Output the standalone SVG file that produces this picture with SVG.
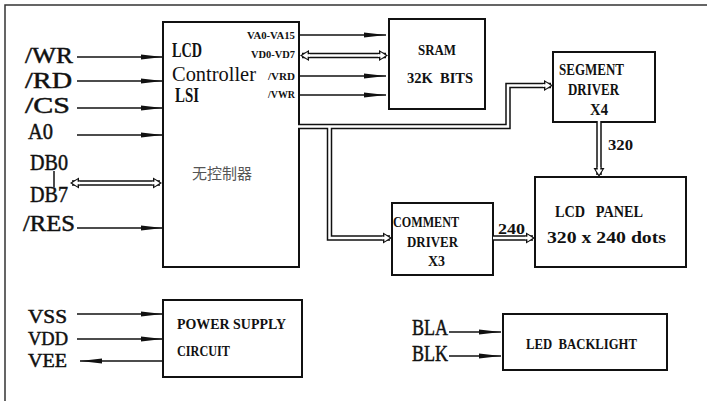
<svg xmlns="http://www.w3.org/2000/svg" xmlns:xlink="http://www.w3.org/1999/xlink" width="707" height="401" viewBox="0 0 707 401">
<style>
.box{fill:#fff;stroke:#111;stroke-width:2}
.ln{fill:none;stroke:#111;stroke-width:1.5}
.big{font-family:"Liberation Serif",serif;font-size:24px;fill:#111;stroke:#111;stroke-width:0.5}
.pw{font-size:19px}
.ctl{font-family:"Liberation Serif",serif;font-size:20px;fill:#111}
.sm{font-family:"Liberation Serif",serif;font-size:10px;font-weight:bold;fill:#111}
.bt{font-family:"Liberation Serif",serif;font-weight:bold;fill:#111}
.cjk{font-family:"Noto Sans CJK SC",sans-serif;font-size:15px;fill:#555}
.dblk{fill:none;stroke:#111;stroke-width:5.5;stroke-linejoin:miter}
.dwht{fill:none;stroke:#fff;stroke-width:2.5;stroke-linejoin:miter}
</style>
<defs>
<marker id="ah" markerUnits="userSpaceOnUse" markerWidth="24" markerHeight="8" refX="22" refY="3" orient="auto">
<path d="M0,0.5 L22,3 L0,5.5 Z" fill="#111"/>
</marker>
<g id="dh">
<path d="M0,0 L-9,-5.5 L-9,5.5 Z" fill="#111"/>
<path d="M-2.2,0 L-7.6,-3.4 L-7.6,3.4 Z" fill="#fff"/>
<rect x="-10" y="-1.25" width="4" height="2.5" fill="#fff"/>
</g>
</defs>
<rect width="707" height="401" fill="#fff"/>
<path d="M5,401 V5 H707" fill="none" stroke="#333" stroke-width="1.5"/>

<g id="controller">
<rect class="box" x="163" y="22" width="136" height="245"/>
<text class="ctl" x="172" y="57" textLength="30" lengthAdjust="spacingAndGlyphs" font-weight="bold">LCD</text>
<text class="ctl" x="172" y="81" textLength="84" lengthAdjust="spacingAndGlyphs">Controller</text>
<text class="ctl" x="175" y="102" textLength="24" lengthAdjust="spacingAndGlyphs" font-weight="bold">LSI</text>
<text class="sm" x="247" y="39" textLength="48" lengthAdjust="spacingAndGlyphs">VA0-VA15</text>
<text class="sm" x="251" y="58" textLength="44" lengthAdjust="spacingAndGlyphs">VD0-VD7</text>
<text class="sm" x="268" y="80" textLength="27" lengthAdjust="spacingAndGlyphs">/VRD</text>
<text class="sm" x="268" y="98" textLength="27" lengthAdjust="spacingAndGlyphs">/VWR</text>
<text class="cjk" x="192" y="179">无控制器</text>
</g>

<g id="sram">
<rect class="box" x="389" y="19" width="96" height="90"/>
<text class="bt" font-size="15" x="418" y="55" textLength="38" lengthAdjust="spacingAndGlyphs">SRAM</text>
<text class="bt" font-size="15" x="407" y="83" textLength="66" lengthAdjust="spacingAndGlyphs" xml:space="preserve">32K  BITS</text>
</g>

<g id="segment">
<rect class="box" x="553" y="52" width="102" height="70"/>
<text class="bt" font-size="16" x="559" y="75" textLength="65" lengthAdjust="spacingAndGlyphs">SEGMENT</text>
<text class="bt" font-size="16" x="568" y="95" textLength="51" lengthAdjust="spacingAndGlyphs">DRIVER</text>
<text class="bt" font-size="16" x="590" y="115" textLength="18" lengthAdjust="spacingAndGlyphs">X4</text>
</g>

<g id="comment">
<rect class="box" x="392" y="203" width="101" height="72"/>
<text class="bt" font-size="14" x="393" y="227" textLength="66" lengthAdjust="spacingAndGlyphs">COMMENT</text>
<text class="bt" font-size="14" x="407" y="247" textLength="51" lengthAdjust="spacingAndGlyphs">DRIVER</text>
<text class="bt" font-size="14" x="428" y="266" textLength="17" lengthAdjust="spacingAndGlyphs">X3</text>
</g>

<g id="panel">
<rect class="box" x="535" y="177" width="151" height="90"/>
<text class="bt" font-size="16" x="555" y="217" textLength="88" lengthAdjust="spacingAndGlyphs" xml:space="preserve">LCD   PANEL</text>
<text class="bt" font-size="16" x="547" y="243" textLength="119" lengthAdjust="spacingAndGlyphs">320 x 240 dots</text>
</g>

<g id="power">
<rect class="box" x="163" y="300" width="139" height="77"/>
<text class="bt" font-size="14" x="177" y="329" textLength="109" lengthAdjust="spacingAndGlyphs">POWER SUPPLY</text>
<text class="bt" font-size="14" x="177" y="356" textLength="53" lengthAdjust="spacingAndGlyphs">CIRCUIT</text>
</g>

<g id="backlight">
<rect class="box" x="503" y="314" width="164" height="56"/>
<text class="bt" font-size="15" x="526" y="349" textLength="111" lengthAdjust="spacingAndGlyphs" xml:space="preserve">LED  BACKLIGHT</text>
</g>

<g id="labels">
<text class="big" x="25" y="63" textLength="48" lengthAdjust="spacingAndGlyphs">/WR</text>
<text class="big" x="25" y="88" textLength="47" lengthAdjust="spacingAndGlyphs">/RD</text>
<text class="big" x="25" y="113" textLength="45" lengthAdjust="spacingAndGlyphs">/CS</text>
<text class="big" x="28" y="139" textLength="25" lengthAdjust="spacingAndGlyphs">A0</text>
<text class="big" x="30" y="170" textLength="38" lengthAdjust="spacingAndGlyphs">DB0</text>
<text class="big" x="30" y="202" textLength="38" lengthAdjust="spacingAndGlyphs">DB7</text>
<text class="big" x="23" y="231" textLength="52" lengthAdjust="spacingAndGlyphs">/RES</text>
<text class="big pw" x="28" y="323" textLength="39" lengthAdjust="spacingAndGlyphs">VSS</text>
<text class="big pw" x="28" y="345" textLength="40" lengthAdjust="spacingAndGlyphs">VDD</text>
<text class="big pw" x="28" y="367" textLength="39" lengthAdjust="spacingAndGlyphs">VEE</text>
<text class="big" x="412" y="335" textLength="36" lengthAdjust="spacingAndGlyphs">BLA</text>
<text class="big" x="412" y="361" textLength="36" lengthAdjust="spacingAndGlyphs">BLK</text>
<text class="bt" font-size="15" x="608" y="150" textLength="25" lengthAdjust="spacingAndGlyphs">320</text>
<text class="bt" font-size="15" x="498" y="234" textLength="27" lengthAdjust="spacingAndGlyphs">240</text>
</g>

<g id="connectors">
<path class="ln" d="M54,171 V187"/>
<g marker-end="url(#ah)" class="ln">
<path class="ln" d="M77,57 H163"/>
<path class="ln" d="M77,81 H163"/>
<path class="ln" d="M77,108 H163"/>
<path class="ln" d="M77,135 H163"/>
<path class="ln" d="M77,228 H163"/>
<path class="ln" d="M299,35 H386"/>
<path class="ln" d="M299,76 H386"/>
<path class="ln" d="M299,95 H386"/>
<path class="ln" d="M77,314 H163"/>
<path class="ln" d="M77,339 H163"/>
<path class="ln" d="M163,361 H80"/>
<path class="ln" d="M449,332 H501"/>
<path class="ln" d="M449,356 H501"/>
</g>
<path class="dblk" d="M302,55.5 H386"/>
<path class="dblk" d="M72,183 H160"/>
<path class="dblk" d="M299,126.5 H508 V85.5 H551"/>
<path class="dblk" d="M329.5,126.5 V238 H390"/>
<path class="dblk" d="M599,122 V175"/>
<path class="dblk" d="M493,238 H533"/>
<path class="dwht" d="M302,55.5 H386"/>
<path class="dwht" d="M72,183 H160"/>
<path class="dwht" d="M298,126.5 H508 V85.5 H551"/>
<path class="dwht" d="M329.5,126.5 V238 H390"/>
<path class="dwht" d="M599,121 V175"/>
<path class="dwht" d="M493,238 H533"/>
<use xlink:href="#dh" transform="translate(388,55.5)"/>
<use xlink:href="#dh" transform="translate(300,55.5) rotate(180)"/>
<use xlink:href="#dh" transform="translate(162,183)"/>
<use xlink:href="#dh" transform="translate(70,183) rotate(180)"/>
<use xlink:href="#dh" transform="translate(553,85.5)"/>
<use xlink:href="#dh" transform="translate(392,238)"/>
<use xlink:href="#dh" transform="translate(599,177) rotate(90)"/>
<use xlink:href="#dh" transform="translate(535,238)"/>
</g>
</svg>
